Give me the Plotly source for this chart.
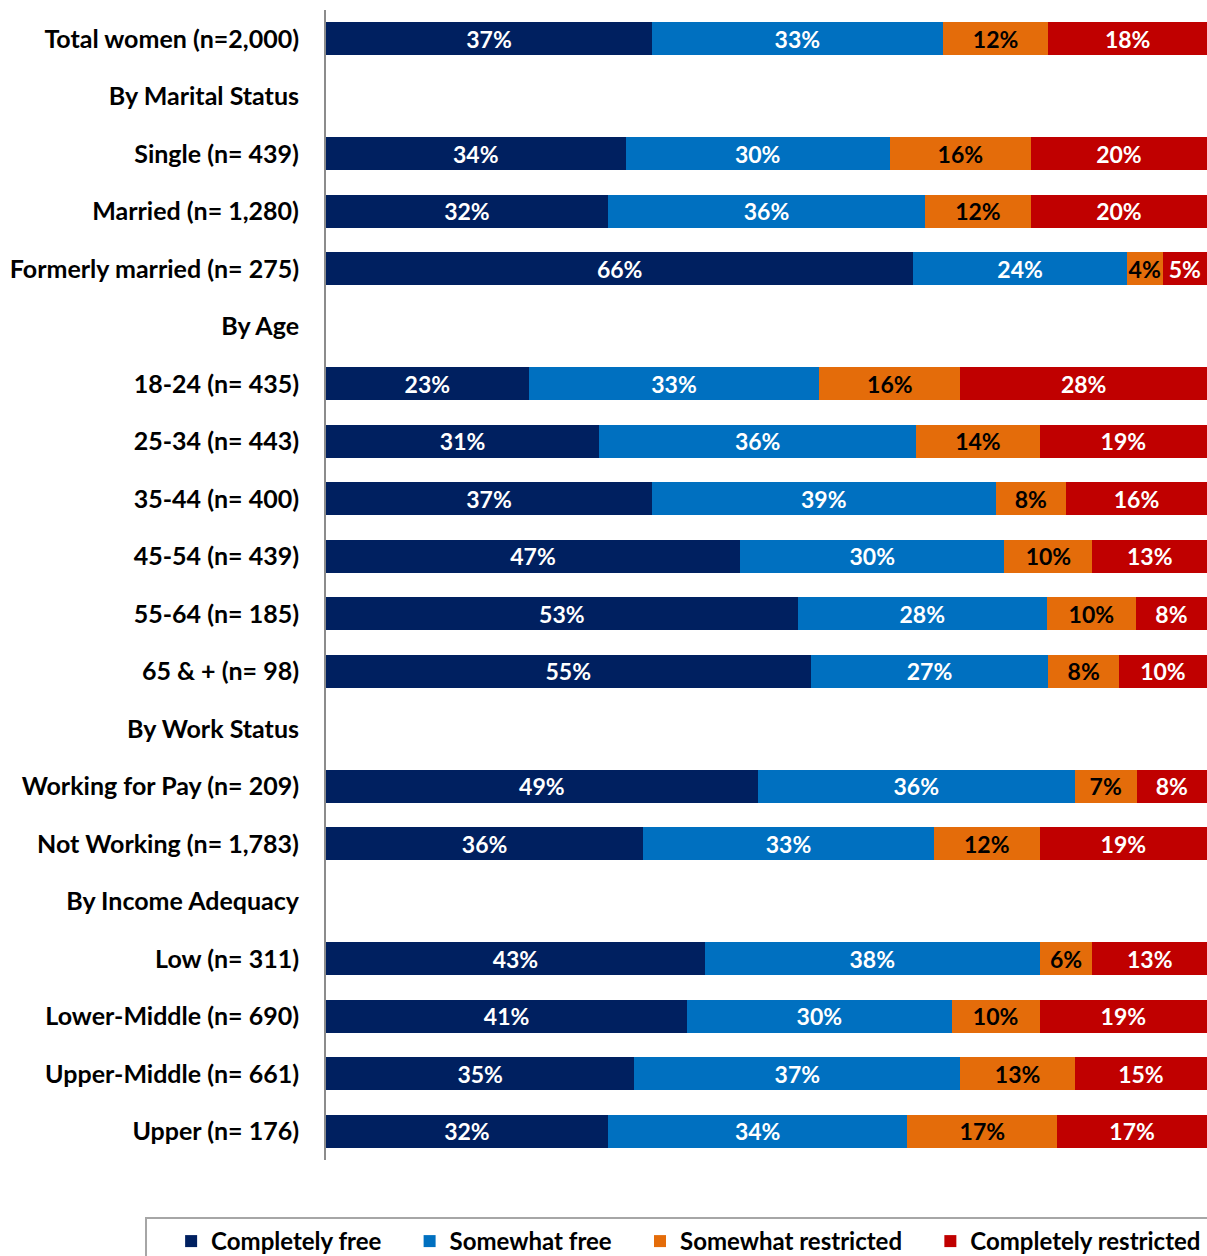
import plotly.graph_objects as go

# Rows of the chart, top to bottom (section headers have no bars)
categories = [
    "Total women (n=2,000)",
    "By Marital Status",
    "Single (n= 439)",
    "Married (n= 1,280)",
    "Formerly married (n= 275)",
    "By Age",
    "18-24 (n= 435)",
    "25-34 (n= 443)",
    "35-44 (n= 400)",
    "45-54 (n= 439)",
    "55-64 (n= 185)",
    "65 & + (n= 98)",
    "By Work Status",
    "Working for Pay (n= 209)",
    "Not Working (n= 1,783)",
    "By Income Adequacy",
    "Low (n= 311)",
    "Lower-Middle (n= 690)",
    "Upper-Middle (n= 661)",
    "Upper (n= 176)",
]

completely_free = [37, None, 34, 32, 66, None, 23, 31, 37, 47, 53, 55, None, 49, 36, None, 43, 41, 35, 32]
somewhat_free = [33, None, 30, 36, 24, None, 33, 36, 39, 30, 28, 27, None, 36, 33, None, 38, 30, 37, 34]
somewhat_restricted = [12, None, 16, 12, 4, None, 16, 14, 8, 10, 10, 8, None, 7, 12, None, 6, 10, 13, 17]
completely_restricted = [18, None, 20, 20, 5, None, 28, 19, 16, 13, 8, 10, None, 8, 19, None, 13, 19, 15, 17]

series_names = ["Completely free", "Somewhat free", "Somewhat restricted", "Completely restricted"]
series_values = [completely_free, somewhat_free, somewhat_restricted, completely_restricted]
series_colors = ["#002060", "#0070C0", "#E46C0A", "#C00000"]
label_colors = ["white", "white", "black", "white"]

FONT = "Lato"
LABEL_SIZE = 25
LEGEND_SIZE = 24
BAR_TEXT_SIZE = 23
PAD = "\u00a0" * 4  # widens the gap between legend entries

fig = go.Figure()
for i, (name, vals, color, lc) in enumerate(zip(series_names, series_values, series_colors, label_colors)):
    legend_name = name if i == len(series_names) - 1 else name + PAD
    fig.add_trace(go.Bar(
        y=categories, x=vals, name=legend_name, orientation="h",
        marker=dict(color=color, line=dict(width=0)),
        text=[f"{v}%" if v is not None else "" for v in vals],
        textposition="inside", insidetextanchor="middle", textangle=0,
        textfont=dict(color=lc, size=BAR_TEXT_SIZE, family=FONT, weight="bold"),
        hoverinfo="skip",
    ))

# legend frame (runs off the right and bottom edges like the original)
fig.add_shape(
    type="rect", xref="paper", yref="paper",
    x0=-0.2043, x1=1.05, y0=-0.05043, y1=-0.3,
    line=dict(color="#a6a6a6", width=2), fillcolor="rgba(0,0,0,0)",
)

fig.update_layout(
    barmode="stack", barnorm="percent", bargap=0.426,
    width=1207, height=1256,
    margin=dict(l=326, r=0, t=10, b=96, autoexpand=False),
    plot_bgcolor="white", paper_bgcolor="white",
    font=dict(family=FONT, size=LABEL_SIZE, color="black", weight="bold"),
    uniformtext=dict(mode="show", minsize=BAR_TEXT_SIZE),
    legend=dict(
        orientation="h", x=-0.1758, y=-0.0513, xanchor="left", yanchor="top",
        borderwidth=0, bgcolor="rgba(0,0,0,0)",
        font=dict(family=FONT, size=LEGEND_SIZE, color="black", weight="bold"),
        traceorder="normal",
    ),
)
fig.update_xaxes(range=[0, 100], visible=False, showgrid=False)
fig.update_yaxes(
    autorange="reversed", showgrid=False, showline=True,
    linecolor="#8c8c8c", linewidth=2, ticks="",
    ticklabelstandoff=20,
    tickfont=dict(family=FONT, size=LABEL_SIZE, color="black", weight="bold"),
)

fig.write_html(
    "out.html",
    config={"displayModeBar": False},
    post_script="document.body.style.margin='0';document.body.style.overflow='hidden';",
)
